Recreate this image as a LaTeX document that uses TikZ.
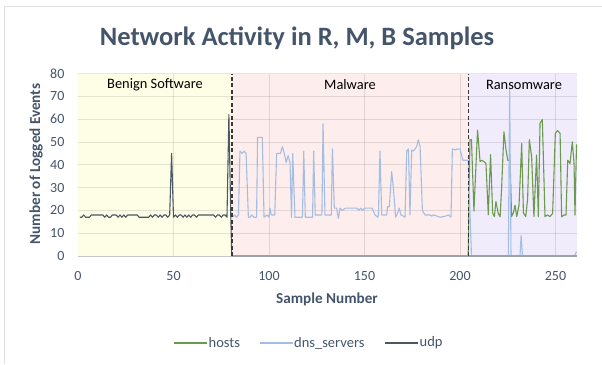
\documentclass[tikz,border=0pt]{standalone}
\usepackage{fontspec}
\setmainfont{Carlito}
\usetikzlibrary{positioning}

\definecolor{slate}{HTML}{44546A}
\definecolor{hostsgreen}{HTML}{6A9A4E}
\definecolor{dnsblue}{HTML}{A4BEE3}
\definecolor{udpdark}{HTML}{4A5866}
\definecolor{benignfill}{HTML}{FEFEE6}
\definecolor{malwarefill}{HTML}{FDEDED}
\definecolor{ransomfill}{HTML}{F1ECFB}

\begin{document}
\begin{tikzpicture}[x=1pt,y=-1pt,
    charttitle/.style={font=\bfseries\fontsize{26.5}{30}\selectfont, text=slate},
    axistitle/.style={font=\bfseries\fontsize{15.2}{17}\selectfont, text=slate},
    ticklabel/.style={font=\fontsize{14}{16}\selectfont, text=slate, inner sep=0pt},
    regionlabel/.style={font=\fontsize{14.4}{16}\selectfont, text=black},
    legendlabel/.style={font=\fontsize{14.5}{16}\selectfont, text=slate, inner sep=1.5pt, anchor=west},
    gridline/.style={black, opacity=0.1, line width=0.8pt},
    splitline/.style={black!78, line width=1.7pt, dash pattern=on 4pt off 2.5pt},
    hosts/.style={hostsgreen, line width=1.1pt, line join=round},
    dns/.style={dnsblue, line width=1.1pt, line join=round},
    udp/.style={udpdark, line width=1.1pt, line join=round}]
\useasboundingbox (0,0) rectangle (602,364);
\draw[black!12, line width=0.8pt] (4,364) -- (4,6) -- (602,6);

\node[charttitle] (title) at (297,38) {Network Activity in R, M, B Samples};

\begin{scope}[shift={(78,256)}, x=1.91pt, y=2.28pt]
  % shaded sample groups
  \fill[benignfill] (0,0) rectangle (80.5,80);
  \fill[malwarefill] (80.5,0) rectangle (204.5,80);
  \fill[ransomfill] (204.5,0) rectangle (261.3,80);

  % grid
  \foreach \v in {10,20,...,80}
    \draw[gridline] (0,\v) -- (261.3,\v);
  \foreach \s in {50,100,...,250}
    \draw[gridline] (\s,0) -- (\s,80);
  \draw[black!22, line width=1pt] (0,0) -- (261.3,0);

  % tick labels
  \foreach \v in {0,10,...,80}
    \node[ticklabel, anchor=east] (y\v) at (-7,\v) {\v};
  \foreach \s in {0,50,...,250}
    \node[ticklabel] (x\s) at (\s,-8.8) {\s};

  % hosts
  \draw[hosts] plot coordinates {(204.3,0) (205.2,51) (206,51) (207.3,19.7)
    (208.4,40.6) (209.2,55.2) (210.5,41.4) (211.3,42) (212.5,41.4) (213.6,40.6)
    (214.8,18.1) (216,44.5) (217.1,18.7) (218,17.3) (218.8,23.9) (220,18.7)
    (221,17.2) (221.8,30) (223,54.5) (224.1,46.5) (225,42) (226.2,42) (227,17.3)
    (228,19) (228.8,22.3) (229.7,17.3) (230.9,22.3) (232.3,49.4) (233.2,18.9)
    (234.4,17.3) (235.4,25) (236.3,51) (237.5,43.6) (238.7,17.3) (240.1,44.3)
    (241,17.2) (241.9,58.2) (243.1,59.9) (244.5,17.3) (245.7,18) (247.1,17.3)
    (248.5,18.7) (249.9,53.8) (251.1,55) (252.4,53.8) (253.2,17.2) (254.5,18)
    (255.5,18) (256.4,42) (257.6,40.6) (258.8,50.1) (259.7,40.6) (260.2,18)
    (261,49)};

  % dns_servers
  \draw[dns] plot coordinates {(81,17) (82,18) (83,17) (84,18) (84.8,46) (86,45)
    (87,46) (88,45) (89.2,17) (90,17) (91,18) (92,17) (93.5,17) (94,52) (96.5,52)
    (97.4,17) (99,18) (100,17) (100.5,21) (101.2,18) (103,18) (104,45) (106,45)
    (107,48) (108,45) (109,41) (110,44) (111,41) (111.8,17) (112.4,45) (113.6,17)
    (117.5,17) (118.2,46) (119,17) (122.8,17) (123.4,46) (124.2,18) (127.7,18)
    (128.3,58) (129.3,18) (132.6,18) (133.2,47) (134.2,21) (135.4,21) (136.3,16.5)
    (137.2,21) (138.4,20) (140,21) (146,21) (147,20) (148,21) (149,20) (150,21)
    (154,21) (155.5,18) (156.9,17) (157.3,18) (158.1,46) (159,18) (161.6,18)
    (162.1,21.6) (163,21.6) (164.2,37) (165.1,30) (166.3,17) (167.4,19) (168.2,21)
    (169.1,18) (170.3,17.5) (171.2,17) (172.1,46) (173,47) (173.8,18) (174.7,46.5)
    (175.6,46) (176.5,47) (177.3,48) (178.2,51) (179.1,48) (180.3,20) (181.7,18)
    (184.3,18) (185.2,17.5) (186.1,18) (188,17.5) (189.7,17) (192.4,17.5) (194,18)
    (195.3,17) (196,47) (197.4,46.5) (199.1,47) (200,47) (201.5,42) (204.3,42)
    (206,0) (225.3,0) (226,74) (226.7,0) (231.4,0) (232,9) (232.7,0) (260,0)
    (261,2)};

  % udp
  \draw[udp] plot coordinates {(1,17) (2,17) (3,18) (4,17) (6,17) (7,18) (13,18)
    (14,17) (15,18) (16,17) (17,17) (18,18) (20,18) (21,17) (22,18) (23,17) (24,18)
    (25,17) (26,18) (31,18) (32,17) (37,17) (38,18) (39,17) (40,18) (41,18) (42,17)
    (43,18) (44,17) (45,18) (46,18) (47,17) (48,18) (49,45) (50,17) (51,18) (52,17)
    (53,18) (54,18) (55,17) (56,18) (57,17) (58,18) (59,17) (60,18) (61,18) (62,17)
    (63,18) (71,18) (72,17) (73,18) (74,18) (75,17) (76,18) (77,18) (78,17) (79,62)
    (80,17) (80.5,0)};
  \draw[udp, udpdark!55] (80.5,0) -- (261.3,0);

  % group borders
  \draw[splitline] (80.5,0) -- (80.5,80);
  \draw[splitline] (204.5,0) -- (204.5,80);

  \node[regionlabel] (benign) at (40.3,75.2) {Benign Software};
  \node[regionlabel] (malware) at (142.4,75.2) {Malware};
  \node[regionlabel] (ransom) at (233.5,75.2) {Ransomware};
\end{scope}

\node[axistitle] (xtitle) at (327,299) {Sample Number};
\node[axistitle, rotate=90] (ytitle) at (36,164) {Number of Logged Events};

% legend
\node[legendlabel] (lhosts) at (207,343) {hosts};
\node[legendlabel] (ldns) at (292.5,343) {dns\_servers};
\node[legendlabel] (ludp) at (418,343) {udp};
\draw[hosts, line width=1.5pt] ([xshift=-33pt]lhosts.west) -- (lhosts.west);
\draw[dns, line width=1.5pt] ([xshift=-33pt]ldns.west) -- (ldns.west);
\draw[udp, line width=1.5pt] ([xshift=-33pt]ludp.west) -- (ludp.west);
\end{tikzpicture}
\end{document}
